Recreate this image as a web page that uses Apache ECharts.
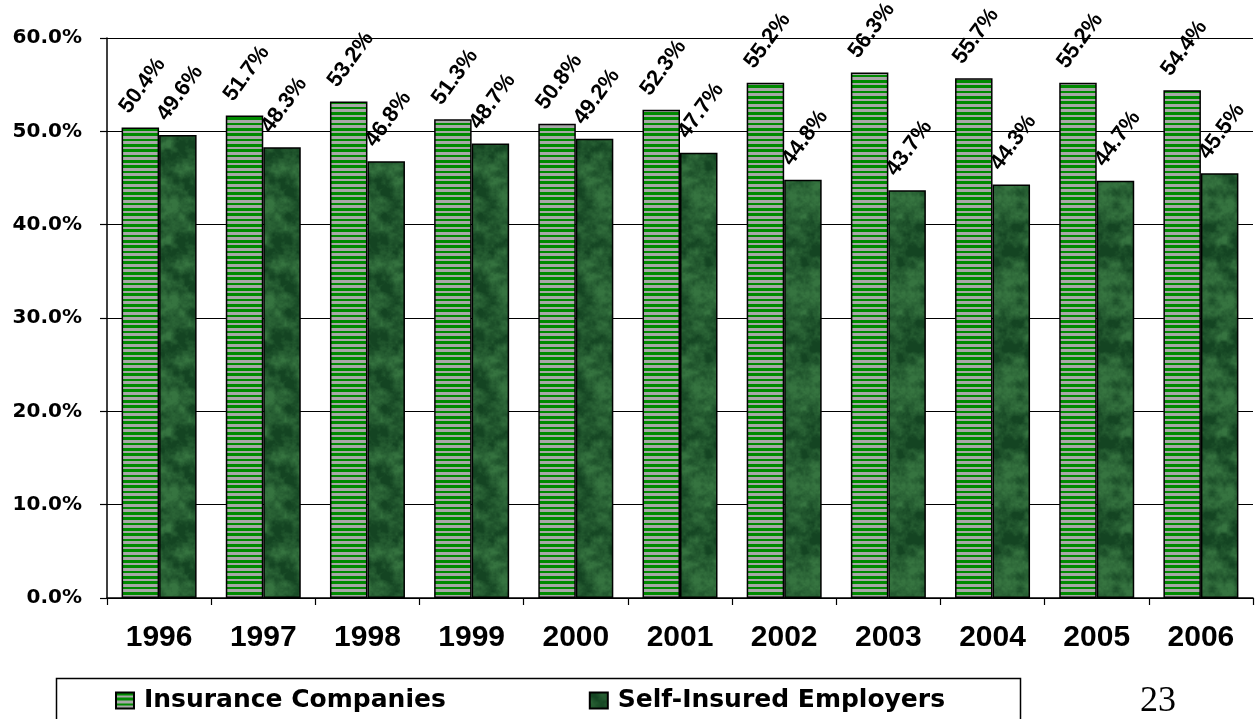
<!DOCTYPE html>
<html><head><meta charset="utf-8">
<script src="https://cdn.jsdelivr.net/npm/echarts@6/dist/echarts.min.js"></script>
<style>html,body{margin:0;padding:0;background:#fff}#c{width:1259px;height:719px}</style>
</head><body><div id="c"></div>
<script>
// ---- data ----
const years = ['1996','1997','1998','1999','2000','2001','2002','2003','2004','2005','2006'];
const insuranceCompanies = [50.4, 51.7, 53.2, 51.3, 50.8, 52.3, 55.2, 56.3, 55.7, 55.2, 54.4];
const selfInsuredEmployers = [49.6, 48.3, 46.8, 48.7, 49.2, 47.7, 44.8, 43.7, 44.3, 44.7, 45.5];
const seriesNames = ['Insurance Companies', 'Self-Insured Employers'];
const pageNumber = '23';

// ---- fill textures ----
function makeStripes() {
  const c = document.createElement('canvas');
  c.width = 4; c.height = 16;
  const ctx = c.getContext('2d');
  const period = 16 / 3;
  for (let y = 0; y < 16; y++) {
    const ph = ((y + 0.5) % period) / period;
    ctx.fillStyle = ph < 0.5 ? '#008a00' : '#a8a8a8';
    ctx.fillRect(0, y, 4, 1);
  }
  return c;
}
function makeMarble() {
  const N = 96;
  const c = document.createElement('canvas');
  c.width = N; c.height = N;
  const ctx = c.getContext('2d');
  const img = ctx.createImageData(N, N);
  function hash(x, y) {
    const s = Math.sin(x * 127.1 + y * 311.7) * 43758.5453;
    return s - Math.floor(s);
  }
  function vnoise(x, y, p) {
    const x0 = Math.floor(x), y0 = Math.floor(y);
    const fx = x - x0, fy = y - y0;
    const sx = fx * fx * (3 - 2 * fx), sy = fy * fy * (3 - 2 * fy);
    const m = (v) => ((v % p) + p) % p;
    const a = hash(m(x0), m(y0)), b = hash(m(x0 + 1), m(y0));
    const cc = hash(m(x0), m(y0 + 1)), d = hash(m(x0 + 1), m(y0 + 1));
    return (a * (1 - sx) + b * sx) * (1 - sy) + (cc * (1 - sx) + d * sx) * sy;
  }
  for (let y = 0; y < N; y++) {
    for (let x = 0; x < N; x++) {
      let t = 0, amp = 0.5, tot = 0;
      for (let o = 0; o < 4; o++) {
        const f = 8 * Math.pow(2, o);
        t += amp * vnoise(x / N * f, y / N * f, f);
        tot += amp; amp *= 0.55;
      }
      t /= tot;
      t = Math.max(0, Math.min(1, (t - 0.3) / 0.45));
      const r = 20 + t * 34, g = 68 + t * 48, b = 34 + t * 30;
      const i = (y * N + x) * 4;
      img.data[i] = r; img.data[i + 1] = g; img.data[i + 2] = b; img.data[i + 3] = 255;
    }
  }
  ctx.putImageData(img, 0, 0);
  return c;
}

const stripeFill = { image: makeStripes(), repeat: 'repeat' };
const marbleFill = { image: makeMarble(), repeat: 'repeat' };

const labelCfg = {
  show: true,
  position: 'top',
  distance: 0,
  rotate: 54,
  align: 'left',
  verticalAlign: 'bottom',
  offset: [4, -12],
  color: '#000',
  fontFamily: 'Liberation Sans, Arial, sans-serif',
  fontWeight: 'bold',
  fontSize: 22,
  formatter: (p) => p.value.toFixed(1) + '%'
};

const chart = echarts.init(document.getElementById('c'), null, { renderer: 'canvas' });
chart.setOption({
  animation: false,
  backgroundColor: '#ffffff',
  grid: { left: 107, right: 6, top: 38, bottom: 121, containLabel: false },
  xAxis: {
    type: 'category',
    data: years,
    axisLine: { show: true, lineStyle: { color: '#000', width: 1.5 } },
    axisTick: { show: true, length: 7, lineStyle: { color: '#000', width: 1.2 } },
    axisLabel: {
      margin: 25, color: '#000', fontFamily: 'Liberation Sans, Arial, sans-serif',
      fontWeight: 'bold', fontSize: 30
    },
    splitLine: { show: false }
  },
  yAxis: {
    type: 'value',
    min: 0, max: 60, interval: 10,
    axisLine: { show: true, lineStyle: { color: '#000', width: 1.5 } },
    axisTick: { show: true, length: 7, lineStyle: { color: '#000', width: 1.2 } },
    axisLabel: {
      margin: 25, color: '#000', fontFamily: 'DejaVu Sans',
      fontWeight: 'bold', fontSize: 20,
      formatter: (v) => v.toFixed(1) + '%'
    },
    splitLine: { show: true, lineStyle: { color: '#000', width: 1.2 } }
  },
  legend: {
    left: 115, top: 688, padding: 0,
    itemWidth: 18, itemHeight: 16, itemGap: 143,
    icon: 'rect',
    textStyle: { color: '#000', fontFamily: 'DejaVu Sans', fontWeight: 'bold', fontSize: 25, padding: [0, 0, 0, 5] },
    data: seriesNames
  },
  graphic: [
    { type: 'rect', left: 54, top: 676, shape: { width: 964, height: 70 },
      style: { fill: 'none', stroke: '#000', lineWidth: 1.5 }, silent: true, z: -1 },
    { type: 'text', left: 1140, top: 684,
      style: { text: pageNumber, fill: '#000', font: '36px "Liberation Serif", "Times New Roman", serif' } }
  ],
  series: [
    {
      name: seriesNames[0], type: 'bar', data: insuranceCompanies,
      barWidth: 37.5, barGap: '0%',
      itemStyle: { color: stripeFill, borderColor: '#000', borderWidth: 1.5 },
      label: labelCfg
    },
    {
      name: seriesNames[1], type: 'bar', data: selfInsuredEmployers,
      barWidth: 37.5, barGap: '0%',
      itemStyle: { color: marbleFill, borderColor: '#000', borderWidth: 1.5 },
      label: labelCfg
    }
  ]
});
</script>
</body></html>
